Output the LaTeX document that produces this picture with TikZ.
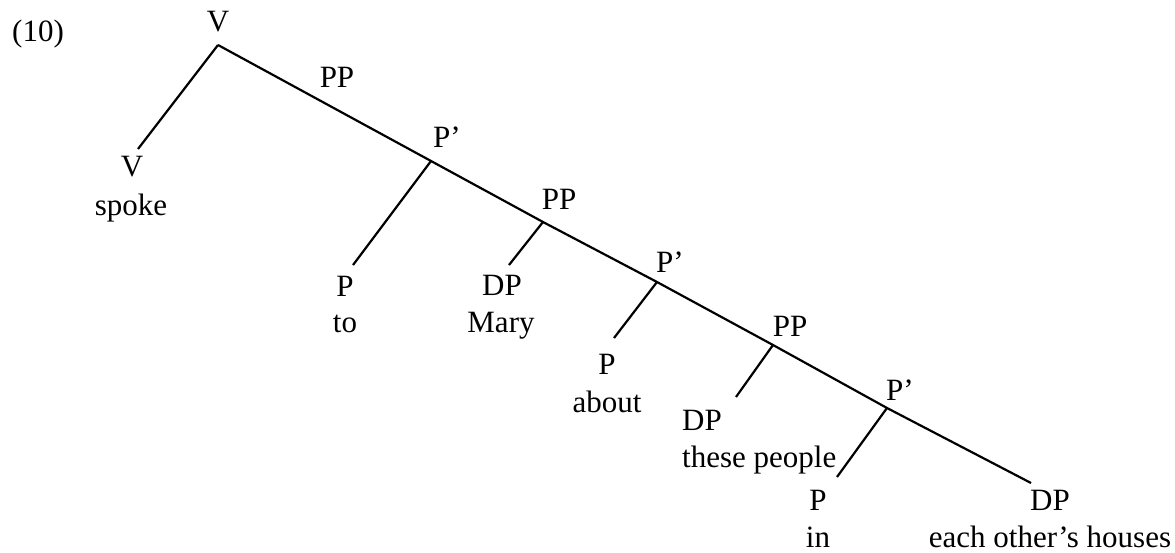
\documentclass[tikz,border=0pt]{standalone}
\usepackage{fontspec}
\setmainfont{Liberation Serif}
\begin{document}
\begin{tikzpicture}[x=1pt,y=-1pt,
  lbl/.style={inner sep=0pt, anchor=base, font=\fontsize{31}{34}\selectfont},
  branch/.style={line width=2.2pt}]
\useasboundingbox (0,0) rectangle (1175,553);
% example number
\node[lbl, anchor=base west] (num) at (12,42) {(10)};
% junctions and branch ends
\coordinate (r)   at (218,45);
\coordinate (ve)  at (138,149);
\coordinate (j1)  at (431,161);
\coordinate (e1)  at (353,265);
\coordinate (j2)  at (543,222);
\coordinate (e2)  at (509,265);
\coordinate (j3)  at (657,282);
\coordinate (e3)  at (614,338);
\coordinate (j4)  at (773,345);
\coordinate (e4)  at (736,397);
\coordinate (j5)  at (887,408);
\coordinate (e5)  at (837,477);
\coordinate (dend) at (1031,483);
% labels
\node[lbl] (vtop) at (218,32) {V};
\node[lbl] (pp1) at (337,88) {PP};
\node[lbl] (vlow) at (132,177) {V};
\node[lbl] (spoke) at (131,216) {spoke};
\node[lbl] (pb1) at (447,148) {P’};
\node[lbl] (pp2) at (559,210) {PP};
\node[lbl] (p1) at (345,297) {P};
\node[lbl] (to) at (345,332) {to};
\node[lbl] (dp1) at (502,296) {DP};
\node[lbl] (mary) at (501,332) {Mary};
\node[lbl] (pb2) at (670,273) {P’};
\node[lbl] (p2) at (607,374) {P};
\node[lbl] (about) at (607,412) {about};
\node[lbl] (pp3) at (790,336) {PP};
\node[lbl, anchor=base west] (dp2) at (682,430) {DP};
\node[lbl, anchor=base west] (these) at (682,467) {these people};
\node[lbl] (pb3) at (900,400) {P’};
\node[lbl] (p3) at (818,510) {P};
\node[lbl] (in) at (818,547) {in};
\node[lbl] (dp3) at (1050,510) {DP};
\node[lbl] (houses) at (1050,547) {each other’s houses};
% branches
\draw[branch] (r) -- (j1) -- (j2) -- (j3) -- (j4) -- (j5) -- (dend);
\draw[branch] (r) -- (ve);
\draw[branch] (j1) -- (e1);
\draw[branch] (j2) -- (e2);
\draw[branch] (j3) -- (e3);
\draw[branch] (j4) -- (e4);
\draw[branch] (j5) -- (e5);
\end{tikzpicture}
\end{document}
